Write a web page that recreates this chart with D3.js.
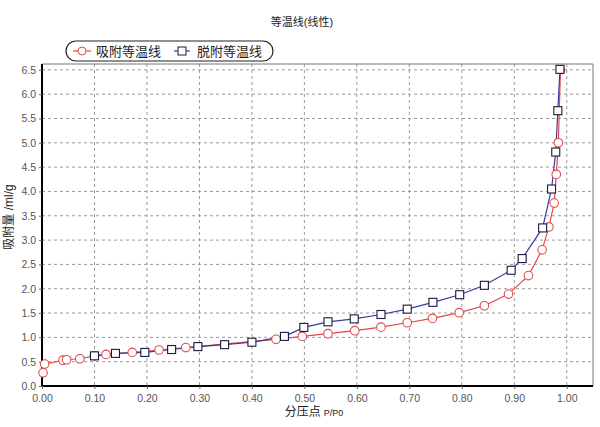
<!DOCTYPE html>
<html><head><meta charset="utf-8">
<script src="https://cdn.jsdelivr.net/npm/d3@7"></script>
<style>
html,body{margin:0;padding:0;background:#fff;}
svg{display:block;font-family:"Liberation Sans","Noto Sans CJK SC",sans-serif;}
</style></head>
<body><svg id="c" width="600" height="427"></svg>
<script>
const titleText = "等温线(线性)";
const xLabel = "分压点";
const xLabelUnit = "P/P0";
const yLabel = "吸附量 /ml/g";
const seriesNames = ["吸附等温线", "脱附等温线"];

const adsX = [0.002,0.005,0.040,0.047,0.072,0.100,0.122,0.172,0.223,0.274,0.446,0.496,0.545,0.596,0.646,0.696,0.744,0.795,0.843,0.889,0.927,0.953,0.966,0.976,0.980,0.984,0.988];
const adsY = [0.27,0.45,0.53,0.54,0.56,0.62,0.65,0.69,0.74,0.79,0.96,1.02,1.075,1.137,1.21,1.30,1.39,1.507,1.65,1.89,2.27,2.80,3.27,3.76,4.35,5.00,6.50];

const desX = [0.100,0.140,0.196,0.247,0.297,0.348,0.400,0.462,0.499,0.545,0.595,0.646,0.696,0.745,0.796,0.843,0.894,0.915,0.954,0.971,0.979,0.983,0.987];
const desY = [0.62,0.67,0.69,0.75,0.81,0.85,0.90,1.02,1.205,1.32,1.38,1.47,1.58,1.72,1.877,2.07,2.38,2.62,3.25,4.05,4.81,5.66,6.51];

const xTicks = [0,0.1,0.2,0.3,0.4,0.5,0.6,0.7,0.8,0.9,1.0];
const yTicks = [0,0.5,1,1.5,2,2.5,3,3.5,4,4.5,5,5.5,6,6.5];

const svg = d3.select("#c");
const L = 42, R = 593, T = 64, B = 386;
const x = d3.scaleLinear().domain([0, 1.05]).range([L, R]);
const y = d3.scaleLinear().domain([0, 6.62]).range([B, T]);

// gridlines
const g = svg.append("g");
g.selectAll(".vg").data(xTicks.slice(1)).join("line")
  .attr("x1", d => x(d)).attr("x2", d => x(d)).attr("y1", T).attr("y2", B)
  .attr("stroke", "#9a9a9a").attr("stroke-dasharray", "3,3").attr("stroke-width", 1);
g.selectAll(".hg").data(yTicks.slice(1)).join("line")
  .attr("x1", L).attr("x2", R).attr("y1", d => y(d)).attr("y2", d => y(d))
  .attr("stroke", "#9a9a9a").attr("stroke-dasharray", "3,3").attr("stroke-width", 1);

// frame top/right
svg.append("line").attr("x1", L).attr("x2", R).attr("y1", T).attr("y2", T).attr("stroke", "#777");
svg.append("line").attr("x1", R).attr("x2", R).attr("y1", T).attr("y2", B).attr("stroke", "#777");

// axes
const xAxis = d3.axisBottom(x).tickValues(xTicks).tickFormat(d3.format(".2f")).tickSize(3).tickPadding(6);
const yAxis = d3.axisLeft(y).tickValues(yTicks).tickFormat(d3.format(".1f")).tickSize(3).tickPadding(3);
const gx = svg.append("g").attr("transform", `translate(0,${B})`).call(xAxis);
const gy = svg.append("g").attr("transform", `translate(${L},0)`).call(yAxis);
[gx, gy].forEach(a => {
  a.select(".domain").attr("stroke", "#000").attr("stroke-width", 2);
  a.selectAll(".tick line").attr("stroke", "#666");
  a.selectAll(".tick text").attr("fill", "#555").style("font-size", "10.5px")
    .style("font-family", "'Liberation Sans',Arial,sans-serif");
});
gx.select(".domain").attr("d", `M${L},0H${R}`);
gy.select(".domain").attr("d", `M0,${T}V${B}`);

// lines
const redC = "#e04a4a", blueC = "#3a3aa0", sqC = "#1a1a40";
const line = d3.line().x(d => x(d[0])).y(d => y(d[1]));
const ads = adsX.map((v, i) => [v, adsY[i]]);
const des = desX.map((v, i) => [v, desY[i]]);

svg.append("path").datum(ads).attr("d", line).attr("fill", "none").attr("stroke", redC).attr("stroke-width", 1.2);
svg.append("path").datum(des).attr("d", line).attr("fill", "none").attr("stroke", blueC).attr("stroke-width", 1.2);

svg.selectAll(".ac").data(ads).join("circle")
  .attr("cx", d => x(d[0])).attr("cy", d => y(d[1])).attr("r", 4.3)
  .attr("fill", "#fff").attr("stroke", redC).attr("stroke-width", 1.1);
svg.selectAll(".ds").data(des).join("rect")
  .attr("x", d => x(d[0]) - 4).attr("y", d => y(d[1]) - 4).attr("width", 8).attr("height", 8)
  .attr("fill", "#fff").attr("stroke", sqC).attr("stroke-width", 1.1);

// title
svg.append("text").attr("x", 302).attr("y", 26).attr("text-anchor", "middle")
  .style("font-size", "11px").attr("fill", "#222").text(titleText);

// legend
const lg = svg.append("g");
lg.append("rect").attr("x", 66).attr("y", 41).attr("width", 207).attr("height", 20).attr("rx", 10)
  .attr("fill", "#fff").attr("stroke", "#222").attr("stroke-width", 1.2);
lg.append("line").attr("x1", 73).attr("x2", 91).attr("y1", 51).attr("y2", 51).attr("stroke", redC).attr("stroke-width", 1.2);
lg.append("circle").attr("cx", 82).attr("cy", 51).attr("r", 4).attr("fill", "#fff").attr("stroke", redC);
lg.append("text").attr("x", 96).attr("y", 56).style("font-size", "13px").attr("fill", "#222").text(seriesNames[0]);
lg.append("line").attr("x1", 174).attr("x2", 190).attr("y1", 51).attr("y2", 51).attr("stroke", blueC).attr("stroke-width", 1.2);
lg.append("rect").attr("x", 178).attr("y", 47).attr("width", 8).attr("height", 8).attr("fill", "#fff").attr("stroke", sqC);
lg.append("text").attr("x", 197).attr("y", 56).style("font-size", "13px").attr("fill", "#222").text(seriesNames[1]);

// axis labels
const xl = svg.append("text").attr("x", 314).attr("y", 416).attr("text-anchor", "middle").attr("fill", "#222");
xl.append("tspan").style("font-size", "12px").text(xLabel);
xl.append("tspan").style("font-size", "9px").attr("dx", 3).text(xLabelUnit);

svg.append("text").attr("transform", "translate(13,217) rotate(-90)").attr("text-anchor", "middle")
  .style("font-size", "12px").attr("fill", "#222").text(yLabel);
</script></body></html>
